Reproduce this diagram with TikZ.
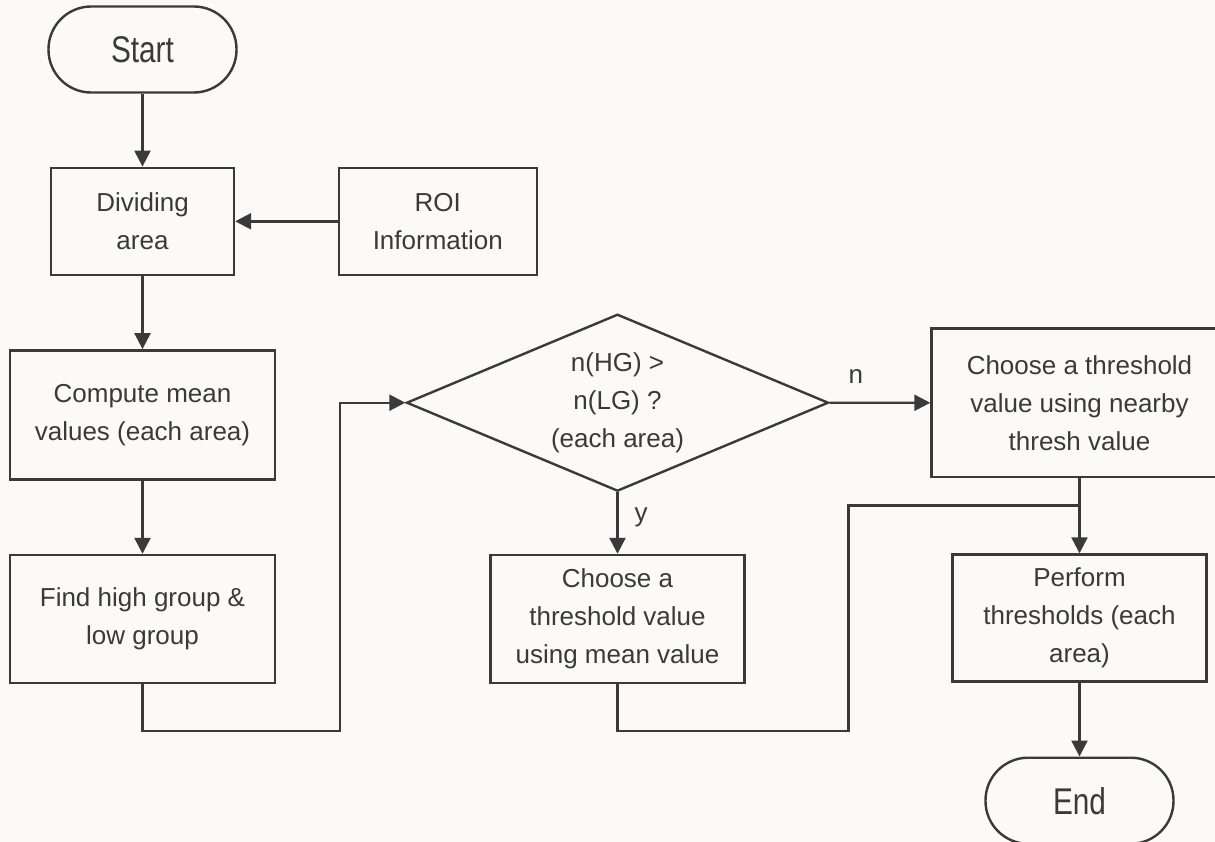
\documentclass[tikz,border=0pt]{standalone}
\usepackage{graphicx}
\usepackage{fontspec}
\setmainfont{Liberation Sans}
\usetikzlibrary{arrows.meta,shapes.geometric}
\definecolor{ink}{RGB}{58,58,58}
\definecolor{paper}{RGB}{251,250,248}
\newcommand{\bigword}[1]{\scalebox{0.8}[1]{\fontsize{27.9}{30}\selectfont #1}}
\begin{document}
\begin{tikzpicture}[x=0.75pt,y=-0.75pt,
  every node/.style={font=\fontsize{19.5}{28.5}\selectfont,text=ink},
  box/.style={draw=ink,line width=1.8pt,inner sep=0pt,align=center},
  term/.style={box,rounded corners=32pt,minimum width=141pt,minimum height=64.5pt},
  decision/.style={box,diamond,aspect=2.38,minimum width=316.5pt,minimum height=132.75pt},
  flow/.style={draw=ink,line width=1.8pt},
  arr/.style={flow,-{Triangle[length=12pt,width=12pt]}},
  tag/.style={inner sep=0pt}]
\useasboundingbox (0,0) rectangle (1215,842);
\clip (0,0) rectangle (1215,842);
\fill[paper] (0,0) rectangle (1215,842);
% Left column
\node[term] (start) at (142.5,49.5) {\bigword{Start}};
\node[box,minimum width=137.25pt,minimum height=80.25pt] (divide) at (142.5,221.3) {Dividing\\area};
\node[box,minimum width=148.5pt,minimum height=80.25pt] (roi) at (437.8,221.3) {ROI\\Information};
\node[box,minimum width=198.75pt,minimum height=96.75pt] (mean) at (142.5,414.8) {Compute mean\\values (each area)};
\node[box,minimum width=198.75pt,minimum height=96pt] (group) at (142.5,619) {Find high group \&\\low group};
% Decision and its two branches
\node[decision] (decide) at (617.5,402.7) {n(HG) >\\n(LG) ?\\(each area)};
\node[box,minimum width=222pt,minimum height=111.3pt] (nearby) at (1079.5,402.8) {Choose a threshold\\value using nearby\\thresh value};
\node[box,minimum width=190.5pt,minimum height=96pt] (usemean) at (617.5,619) {Choose a\\threshold value\\using mean value};
% Right column
\node[box,minimum width=190.5pt,minimum height=95.25pt] (perform) at (1079.5,618) {Perform\\thresholds (each\\area)};
\node[term] (stop) at (1079.5,800.7) {\bigword{End}};
% Connectors
\coordinate (low1) at (340,731);
\coordinate (low2) at (848.3,731);
\coordinate (merge) at (1079.5,505.3);
\draw[arr] (start) -- (divide);
\draw[arr] (roi) -- (divide);
\draw[arr] (divide) -- (mean);
\draw[arr] (mean) -- (group);
\draw[arr] (group.south) |- (low1) |- (decide.west);
\draw[arr] (decide.east) -- node[tag,pos=0.26,above=13.5pt] {n} (nearby.west);
\draw[arr] (decide.south) -- node[tag,pos=0.4,right=12pt] {y} (usemean.north);
\draw[arr] (nearby) -- (perform);
\draw[flow] (usemean.south) |- (low2) |- (merge);
\draw[arr] (perform) -- (stop);
\end{tikzpicture}
\end{document}
